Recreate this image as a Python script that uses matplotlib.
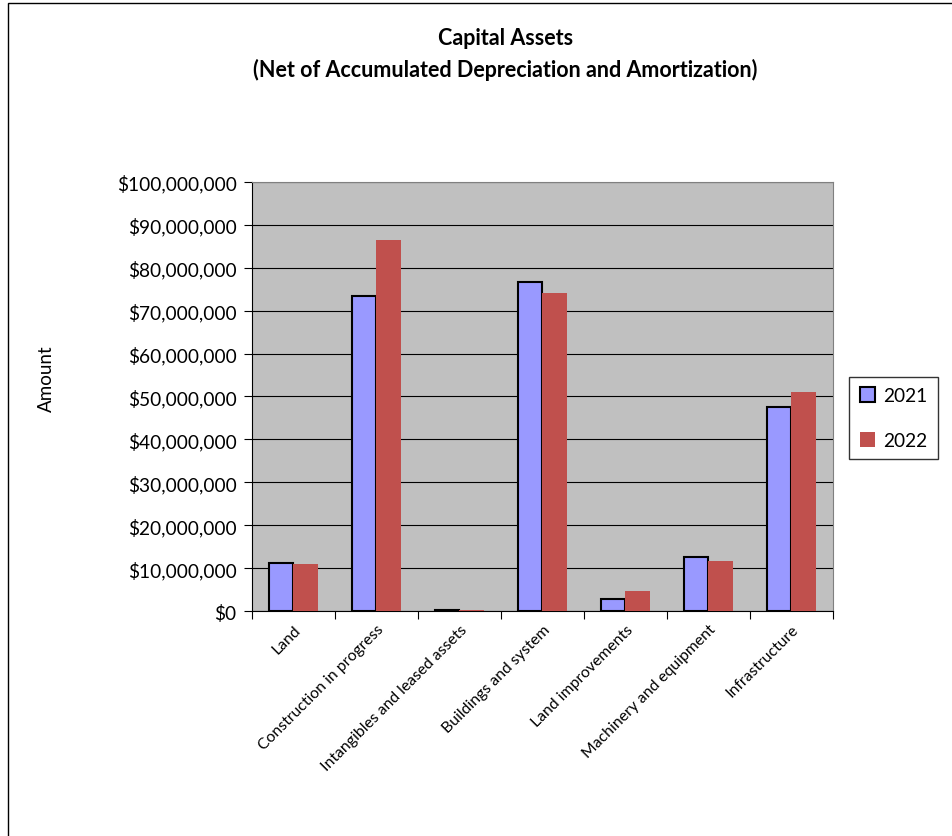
import matplotlib.pyplot as plt
import numpy as np
from matplotlib.patches import Rectangle
from matplotlib.ticker import FuncFormatter

categories = ["Land", "Construction in progress", "Intangibles and leased assets",
              "Buildings and system", "Land improvements", "Machinery and equipment",
              "Infrastructure"]
amt_2021 = [11.2e6, 73.4e6, 0.3e6, 76.7e6, 2.8e6, 12.6e6, 47.6e6]
amt_2022 = [11.0e6, 86.5e6, 0.2e6, 74.1e6, 4.7e6, 11.7e6, 51.0e6]

plt.rcParams['font.family'] = ['Lato', 'DejaVu Sans']

fig = plt.figure(figsize=(9.52, 8.37), dpi=100)
ax = fig.add_axes([0.2647, 0.2688, 0.875 - 0.2647, 0.7814 - 0.2688])

x = np.arange(len(categories))
w = 0.29
ax.bar(x - w / 2, amt_2021, w, color="#9999FF", edgecolor="black", linewidth=1.5, label="2021", zorder=3)
ax.bar(x + w / 2, amt_2022, w, color="#C0504D", edgecolor="none", label="2022", zorder=3)

ax.set_facecolor("#C0C0C0")
ax.set_xlim(-0.5, len(categories) - 0.5)
ax.set_ylim(0, 100e6)
ax.set_yticks(np.arange(0, 100e6 + 1, 10e6))
ax.yaxis.set_major_formatter(FuncFormatter(lambda v, p: "${:,.0f}".format(v)))
ax.grid(axis="y", color="black", linewidth=0.8, zorder=0)
ax.set_axisbelow(True)

ax.set_xticks(np.arange(-0.5, len(categories), 1.0))
ax.set_xticklabels([])
ax.set_xticks(x, minor=True)
ax.set_xticklabels(categories, minor=True, rotation=45, ha="right", rotation_mode="anchor", fontsize=11.3)
ax.tick_params(axis="x", which="minor", length=0, pad=8)
ax.tick_params(axis="x", which="major", length=6, direction="out", color="black")
ax.tick_params(axis="y", length=6, direction="out", labelsize=13.8, pad=5)

for s in ["top", "right"]:
    ax.spines[s].set_color("#808080")
for s in ["left", "bottom"]:
    ax.spines[s].set_color("black")

fig.text(0.049, 0.547, "Amount", rotation=90, ha="center", va="center", fontsize=13.5)
fig.text(0.531, 0.935, "Capital Assets\n(Net of Accumulated Depreciation and Amortization)",
         ha="center", va="center", fontsize=15.5, fontweight="bold", linespacing=1.55)

leg = ax.legend(loc="center left", bbox_to_anchor=(1.028, 0.45), frameon=True, fancybox=False,
                edgecolor="black", fontsize=13.8, handlelength=0.8, handleheight=0.8,
                labelspacing=1.45, borderpad=0.55, handletextpad=0.4, borderaxespad=0)
leg.get_frame().set_linewidth(1.0)

fig.patches.append(Rectangle((8 / 952, -0.1), 1.2, 1 - 4 / 837 + 0.1, transform=fig.transFigure,
                             fill=False, edgecolor="black", linewidth=1.0))

fig.savefig("out.png", dpi=100)
